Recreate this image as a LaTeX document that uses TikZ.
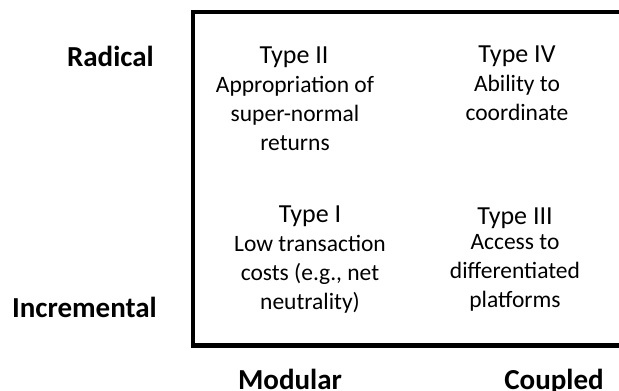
\documentclass[tikz,border=0pt]{standalone}
\usepackage{fontspec}
\setmainfont{Carlito}
\usetikzlibrary{positioning}
\tikzstyle{typehead} = [anchor=base, inner sep=0pt, font=\fontsize{26}{30}\selectfont]
\tikzstyle{typebody} = [anchor=base, inner sep=0pt, align=center, font=\fontsize{23.5}{29}\selectfont]
\tikzstyle{axislabel} = [anchor=base, inner sep=0pt, font=\fontsize{29}{34}\selectfont\bfseries]

\begin{document}
\begin{tikzpicture}[x=1pt, y=-1pt]
        \useasboundingbox (0,0) rectangle (619,391);
        \clip (0,0) rectangle (619,391);
        % the matrix frame, its right side runs off the page
        \draw[line width=4.5pt] (193,12) rectangle (660,345.5);

        \node[axislabel, anchor=base east] at (154, 66) (radical) {Radical};
        \node[axislabel, anchor=base east] at (157, 317) (incremental) {Incremental};
        \node[axislabel] at (290, 389) (modular) {Modular};
        \node[axislabel] at (554, 389) (coupled) {Coupled};

        % body nodes sit on the baseline of their last line
        \node[typehead] at (294, 63) (type_II) {Type II};
        \node[typebody] at (295, 150) (type_II_text) {Appropriation of\\super-normal\\returns};
        \node[typehead] at (517, 62) (type_IV) {Type IV};
        \node[typebody] at (517, 120) (type_IV_text) {Ability to\\coordinate};

        \node[typehead] at (310, 222) (type_I) {Type I};
        \node[typebody] at (310, 309) (type_I_text) {Low transaction\\costs (e.g., net\\neutrality)};
        \node[typehead] at (515, 224) (type_III) {Type III};
        \node[typebody] at (515, 307) (type_III_text) {Access to\\differentiated\\platforms};
    \end{tikzpicture}
\end{document}
